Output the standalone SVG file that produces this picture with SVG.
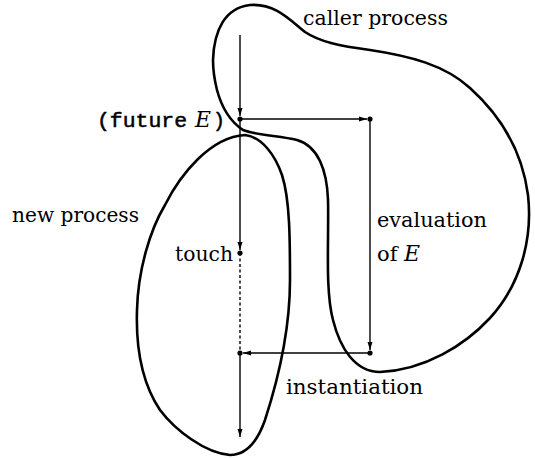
<svg xmlns="http://www.w3.org/2000/svg" width="535" height="458" viewBox="0 0 535 458">
<style>
.blob{fill:none;stroke:#000;stroke-width:2.6;stroke-linejoin:round}
.ln{fill:none;stroke:#000;stroke-width:1.4}
.dash{stroke-dasharray:3 2.5}
.t{font-family:"DejaVu Serif","Liberation Serif",serif;font-size:21px;fill:#000}
.tt{font-family:"Liberation Mono","DejaVu Sans Mono",monospace;font-size:20px;fill:#000;stroke:#000;stroke-width:0.5}
.it{font-family:"DejaVu Serif","Liberation Serif",serif;font-style:italic;font-size:22px;fill:#000}
</style>
<defs>
<marker id="ah" markerUnits="userSpaceOnUse" markerWidth="9" markerHeight="6" refX="8" refY="3" orient="auto">
<path d="M0,0.5 L8,3 L0,5.5 Z" fill="#000"/>
</marker>
</defs>
<g id="caller-process">
<path class="blob" d="M217,90 C221,105 228,120 243,130 C255,135 280,136 297,140 C318,146 327,170 328,200 C329,240 325,290 333,320 C340,348 355,372 380,372 C425,370 465,345 490,318 C520,285 533,240 528,195 C522,150 500,115 470,88 C445,65 410,56 370,50 C340,46 320,42 305,32 C290,20 275,3 250,5 C225,8 214,30 213,60 C213,72 215,82 217,90 Z"/>
<text class="t" x="303" y="25" textLength="145" lengthAdjust="spacingAndGlyphs">caller process</text>
</g>
<g id="new-process">
<path class="blob" d="M245,135 C262,137 275,155 282,175 C290,200 290,240 290,280 C290,330 278,380 265,420 C258,440 248,455 230,455 C205,453 175,430 160,410 C140,380 136,340 137,310 C138,270 150,230 165,205 C180,175 210,137 245,135 Z"/>
<text class="t" x="12" y="222" textLength="127" lengthAdjust="spacingAndGlyphs">new process</text>
</g>
<g id="future">
<circle cx="240" cy="119" r="2.6"/>
<text class="tt" x="97" y="127" textLength="90" lengthAdjust="spacingAndGlyphs">(future</text>
<text class="it" x="195" y="127">E</text>
<text class="tt" x="213" y="127">)</text>
</g>
<g id="evaluation">
<circle cx="370" cy="119" r="2.6"/>
<circle cx="370" cy="353" r="2.6"/>
<text class="t" x="377" y="227" textLength="110" lengthAdjust="spacingAndGlyphs">evaluation</text>
<text class="t" x="377" y="261">of <tspan class="it">E</tspan></text>
</g>
<g id="touch">
<circle cx="240" cy="253" r="2.6"/>
<text class="t" x="175" y="261" textLength="58" lengthAdjust="spacingAndGlyphs">touch</text>
</g>
<g id="instantiation">
<circle cx="240" cy="353" r="2.6"/>
<text class="t" x="286" y="394" textLength="137" lengthAdjust="spacingAndGlyphs">instantiation</text>
</g>
<g id="connectors">
<path class="ln" d="M240,35 V116" marker-end="url(#ah)"/>
<path class="ln" d="M240,119 H367" marker-end="url(#ah)"/>
<path class="ln" d="M370,119 V350" marker-end="url(#ah)"/>
<path class="ln" d="M370,353 H243" marker-end="url(#ah)"/>
<path class="ln" d="M240,119 V250" marker-end="url(#ah)"/>
<path class="ln dash" d="M240,253 V353"/>
<path class="ln" d="M240,353 V437" marker-end="url(#ah)"/>
</g>
</svg>
